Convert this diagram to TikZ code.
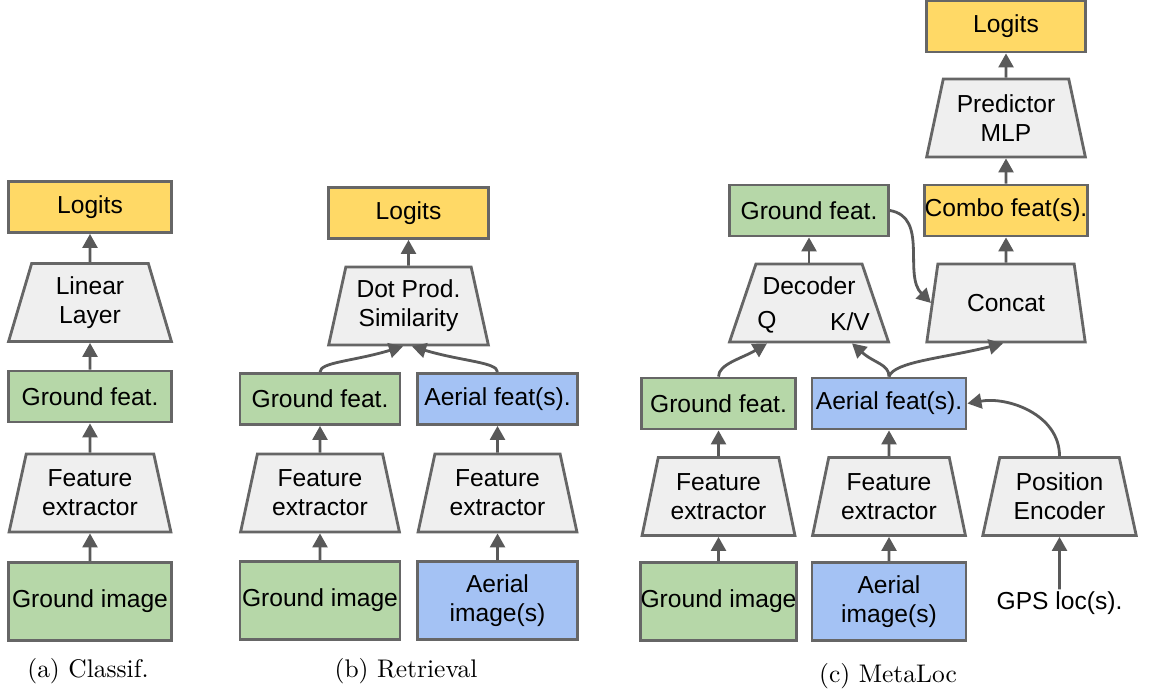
\documentclass[tikz,border=0pt]{standalone}
\usepackage{fontspec}
\usepackage{tikz}
\usetikzlibrary{calc,arrows.meta,shapes.geometric}

\newfontfamily\arial{Liberation Sans}
\newfontfamily\capserif{lmroman10-regular}[Extension=.otf]
\newcommand{\boxfont}{\arial\fontsize{14}{16.5}\selectfont}
\newcommand{\capfont}{\capserif\fontsize{14.5}{17}\selectfont}

\definecolor{logityellow}{HTML}{FFD966}
\definecolor{groundgreen}{HTML}{B6D7A8}
\definecolor{aerialblue}{HTML}{A4C2F4}
\definecolor{trapgray}{HTML}{EFEFEF}
\definecolor{bordergray}{HTML}{666666}
\definecolor{arrowgray}{HTML}{595959}

\begin{document}
\begin{tikzpicture}[
    box/.style={draw=bordergray, line width=1.6pt, minimum width=3.2cm, minimum height=1.02cm,
        font=\boxfont, align=center, inner xsep=0pt, inner ysep=2pt},
    logit/.style={box, fill=logityellow},
    ground/.style={box, fill=groundgreen},
    aerial/.style={box, fill=aerialblue},
    trap/.style={trapezium, trapezium left angle=76, trapezium right angle=76, trapezium stretches=true,
        draw=bordergray, fill=trapgray, line width=1.6pt, minimum width=3.2cm, minimum height=1.56cm,
        font=\boxfont, align=center},
    txt/.style={font=\boxfont, inner sep=1pt},
    flow/.style={line width=1.6pt, draw=arrowgray, -{Triangle[length=8pt,width=8.5pt]}},
    capt/.style={font=\capfont}
]
\useasboundingbox (0,0) rectangle (23.16,13.92);

    %(a) classif
    \node[logit, minimum width=3.26cm] (lga) at (1.8,9.78) {Logits};
    \node[trap, minimum width=3.26cm] (lin) at (1.8,7.87) {Linear\\Layer};
    \node[ground, minimum width=3.26cm] (gfa) at (1.8,5.99) {Ground feat.};
    \node[trap, minimum width=3.26cm] (fea) at (1.8,4.06) {Feature\\extractor};
    \node[ground, minimum width=3.26cm, minimum height=1.56cm] (gia) at (1.8,1.89) {Ground image};
    \node[capt] (capa) at (1.76,0.5) {(a) Classif.};

    \draw[flow] (gia) -- (fea);
    \draw[flow] (fea) -- (gfa);
    \draw[flow] (gfa) -- (lin);
    \draw[flow] (lin) -- (lga);

    %(b) retrieval
    \node[logit] (lgb) at (8.17,9.66) {Logits};
    \node[trap] (dot) at (8.17,7.8) {Dot Prod.\\Similarity};
    \node[ground] (gfb) at (6.4,5.94) {Ground feat.};
    \node[aerial] (afb) at (9.95,5.94) {Aerial feat(s).};
    \node[trap] (feb) at (6.4,4.06) {Feature\\extractor};
    \node[trap] (feab) at (9.95,4.06) {Feature\\extractor};
    \node[ground, minimum height=1.56cm] (gib) at (6.4,1.91) {Ground image};
    \node[aerial, minimum height=1.56cm] (aib) at (9.95,1.91) {Aerial\\image(s)};
    \node[capt] (capb) at (8.12,0.5) {(b) Retrieval};

    \draw[flow] (gib) -- (feb);
    \draw[flow] (feb) -- (gfb);
    \draw[flow] (aib) -- (feab);
    \draw[flow] (feab) -- (afb);
    \draw[flow] (gfb.north) .. controls +(0,0.2) and +(-1.0,-0.3) .. ($(dot.south)+(-0.11,0)$);
    \draw[flow] (afb.north) .. controls +(0,0.2) and +(1.0,-0.3) .. ($(dot.south)+(0.07,0)$);
    \draw[flow] (dot) -- (lgb);

    %(c) metaloc
    \node[logit, minimum width=3.18cm] (lgc) at (20.12,13.39) {Logits};
    \node[trap, minimum width=3.18cm] (mlp) at (20.12,11.56) {Predictor\\MLP};
    \node[logit, minimum width=3.18cm] (combo) at (20.12,9.71) {Combo feat(s).};
    \node[trap, minimum width=3.18cm] (concat) at (20.12,7.86) {Concat};
    \node[ground, minimum width=3.18cm] (gft) at (16.18,9.71) {Ground feat.};
    \node[trap, minimum width=3.18cm] (dec) at (16.18,7.86) {};
    \node[txt] (decname) at ($(dec.center)+(0,0.34)$) {Decoder};
    \node[txt] (q) at ($(dec.center)+(-0.84,-0.38)$) {Q};
    \node[txt] (kv) at ($(dec.center)+(0.82,-0.38)$) {K/V};

    \node[ground, minimum width=3.08cm] (gfc) at (14.37,5.85) {Ground feat.};
    \node[aerial, minimum width=3.08cm] (afc) at (17.78,5.85) {Aerial feat(s).};
    \node[trap, minimum width=3.08cm] (fec) at (14.37,3.99) {Feature\\extractor};
    \node[trap, minimum width=3.08cm] (feac) at (17.78,3.99) {Feature\\extractor};
    \node[trap, minimum width=3.08cm] (pe) at (21.19,3.99) {Position\\Encoder};
    \node[ground, minimum width=3.08cm, minimum height=1.56cm] (gic) at (14.37,1.89) {Ground image};
    \node[aerial, minimum width=3.08cm, minimum height=1.56cm] (aic) at (17.78,1.89) {Aerial\\image(s)};
    \node[txt] (gps) at (21.19,1.86) {GPS loc(s).};
    \node[capt] (capc) at (17.76,0.4) {(c) MetaLoc};

    \draw[flow] (gic) -- (fec);
    \draw[flow] (fec) -- (gfc);
    \draw[flow] (aic) -- (feac);
    \draw[flow] (feac) -- (afc);
    \draw[flow] (gps) -- (pe);
    \draw[flow] (pe.north) to[out=90,in=10] (afc.east);
    \draw[flow] (gfc.north) .. controls +(0,0.25) and +(-0.5,-0.3) .. ($(dec.south)+(-0.84,0)$);
    \draw[flow] (afc.north) .. controls +(0,0.25) and +(0.45,-0.4) .. ($(dec.south)+(0.86,0)$);
    \draw[flow] (afc.north) .. controls +(0.1,0.3) and +(-1.2,-0.3) .. ($(concat.south)+(-0.06,0)$);
    \draw[flow] (gft.east) to[out=-10,in=135] (concat.west);
    \draw[flow] (dec) -- (gft);
    \draw[flow] (concat) -- (combo);
    \draw[flow] (combo) -- (mlp);
    \draw[flow] (mlp) -- (lgc);

\end{tikzpicture}
\end{document}
